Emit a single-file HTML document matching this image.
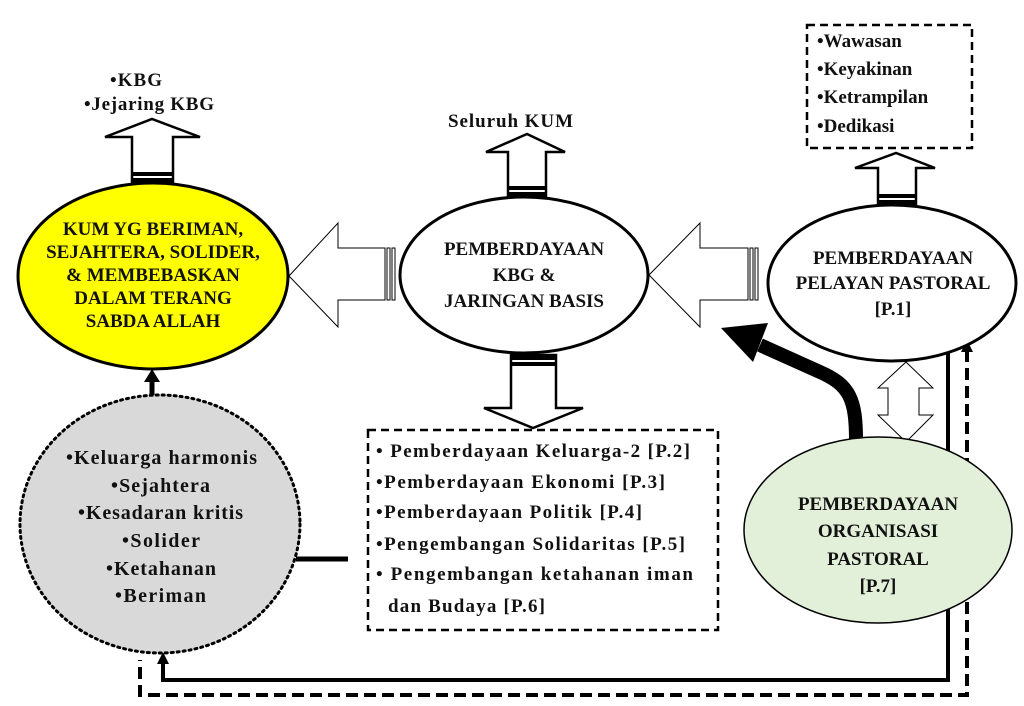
<!DOCTYPE html>
<html><head><meta charset="utf-8"><style>
html,body{margin:0;padding:0;background:#fff;}
svg{display:block;}
text{font-family:"Liberation Serif",serif;font-weight:bold;fill:#111;}
</style></head><body>
<svg width="1024" height="706" viewBox="0 0 1024 706" xmlns="http://www.w3.org/2000/svg">
<polyline points="948,345 948,680 163,680 163,662" fill="none" stroke="#000" stroke-width="4"/>
<polygon points="157,664 169,664 163,652" fill="#000"/>
<polyline points="967,350 967,695 140,695 140,660" fill="none" stroke="#000" stroke-width="4" stroke-dasharray="12,6"/>
<polygon points="961,352 973,352 967,340" fill="#000"/>

<ellipse cx="153" cy="276" rx="135" ry="93" fill="#ffff00" stroke="#000" stroke-width="3"/>
<g font-size="19" text-anchor="middle">
<text x="153" y="235">KUM YG BERIMAN,</text>
<text x="153" y="258">SEJAHTERA, SOLIDER,</text>
<text x="153" y="281">&amp; MEMBEBASKAN</text>
<text x="153" y="304">DALAM TERANG</text>
<text x="153" y="327">SABDA ALLAH</text>
</g>
<polygon points="132,183 132,137 105,137 152,119 200,137 173,137 173,183" fill="#fff" stroke="#000" stroke-width="2.5"/>
<rect x="132" y="172" width="41" height="4" fill="#000"/><rect x="132" y="178" width="41" height="5" fill="#000"/>
<g font-size="19">
<text x="110" y="86" textLength="52">•KBG</text>
<text x="84" y="110" textLength="130">•Jejaring KBG</text>
</g>

<polygon points="289,276 338,223 338,248 385,248 385,300 338,300 338,327" fill="#fff" stroke="#000" stroke-width="1"/>
<rect x="387" y="248" width="3" height="52" fill="none" stroke="#000" stroke-width="1"/>
<rect x="392" y="248" width="3" height="52" fill="none" stroke="#000" stroke-width="1"/>

<ellipse cx="524" cy="275" rx="124" ry="78" fill="#fff" stroke="#000" stroke-width="3"/>
<g font-size="19" text-anchor="middle">
<text x="524" y="255">PEMBERDAYAAN</text>
<text x="524" y="281">KBG &amp;</text>
<text x="524" y="307">JARINGAN BASIS</text>
</g>
<polygon points="508,197 508,152 486,152 527,134 565,152 546,152 546,197" fill="#fff" stroke="#000" stroke-width="2.5"/>
<rect x="508" y="186" width="38" height="4" fill="#000"/><rect x="508" y="192" width="38" height="5" fill="#000"/>
<text x="448" y="127" font-size="19" textLength="125">Seluruh KUM</text>
<polygon points="511,355 511,408 484,408 533,428 583,408 556,408 556,355" fill="#fff" stroke="#000" stroke-width="2.5"/>
<rect x="511" y="355" width="45" height="5" fill="#000"/><rect x="511" y="362" width="45" height="4" fill="#000"/>

<polygon points="649,275 700,223 700,248 748,248 748,300 700,300 700,327" fill="#fff" stroke="#000" stroke-width="1"/>
<rect x="750" y="248" width="3" height="52" fill="none" stroke="#000" stroke-width="1"/>
<rect x="755" y="248" width="3" height="52" fill="none" stroke="#000" stroke-width="1"/>

<ellipse cx="892" cy="283" rx="124" ry="78" fill="#fff" stroke="#000" stroke-width="3"/>
<g font-size="19" text-anchor="middle">
<text x="893" y="264">PEMBERDAYAAN</text>
<text x="893" y="289">PELAYAN PASTORAL</text>
<text x="893" y="315">[P.1]</text>
</g>
<polygon points="878,205 878,168 855,168 896,153 935,168 916,168 916,205" fill="#fff" stroke="#000" stroke-width="2.5"/>
<rect x="878" y="194" width="38" height="4" fill="#000"/><rect x="878" y="200" width="38" height="5" fill="#000"/>
<rect x="807" y="25" width="165" height="123" fill="#fff" stroke="#000" stroke-width="2.5" stroke-dasharray="8,5"/>
<g font-size="19">
<text x="817" y="47">•Wawasan</text>
<text x="817" y="75">•Keyakinan</text>
<text x="817" y="103">•Ketrampilan</text>
<text x="817" y="132">•Dedikasi</text>
</g>

<polygon points="906,362 933,388 919,388 919,415 933,415 906,442 878,415 888,415 888,388 878,388" fill="#fff" stroke="#000" stroke-width="1"/>

<path d="M856,440 C856,400 850,385 820,372 L760,345" fill="none" stroke="#000" stroke-width="14"/>
<polygon points="721,328 768,323 753,362" fill="#000"/>

<ellipse cx="878" cy="530" rx="134" ry="93" fill="#e2efd9" stroke="#000" stroke-width="1.5"/>
<g font-size="19" text-anchor="middle">
<text x="878" y="510">PEMBERDAYAAN</text>
<text x="878" y="537">ORGANISASI</text>
<text x="878" y="565">PASTORAL</text>
<text x="878" y="592">[P.7]</text>
</g>

<ellipse cx="160" cy="524" rx="140" ry="129" fill="#d9d9d9" stroke="#000" stroke-width="3" stroke-dasharray="2,4" stroke-linecap="round"/>
<g font-size="20">
<text x="66" y="464" textLength="191">•Keluarga harmonis</text>
<text x="111" y="492" textLength="99">•Sejahtera</text>
<text x="78" y="519" textLength="165">•Kesadaran kritis</text>
<text x="122" y="547" textLength="78">•Solider</text>
<text x="106" y="575" textLength="110">•Ketahanan</text>
<text x="115" y="602" textLength="91">•Beriman</text>
</g>
<line x1="152" y1="395" x2="152" y2="380" stroke="#000" stroke-width="5"/>
<polygon points="144,382 160,382 152,369" fill="#000"/>
<line x1="296" y1="559" x2="348" y2="559" stroke="#000" stroke-width="5"/>

<rect x="368" y="430" width="350" height="200" fill="#fff" stroke="#000" stroke-width="2.5" stroke-dasharray="8,5"/>
<g font-size="19">
<text x="376" y="457" textLength="314">• Pemberdayaan Keluarga-2 [P.2]</text>
<text x="376" y="488" textLength="289">•Pemberdayaan Ekonomi [P.3]</text>
<text x="376" y="518" textLength="266">•Pemberdayaan Politik [P.4]</text>
<text x="376" y="550" textLength="309">•Pengembangan Solidaritas [P.5]</text>
<text x="376" y="580" textLength="317">• Pengembangan ketahanan iman</text>
<text x="388" y="612" textLength="157">dan Budaya [P.6]</text>
</g>
</svg>
</body></html>
